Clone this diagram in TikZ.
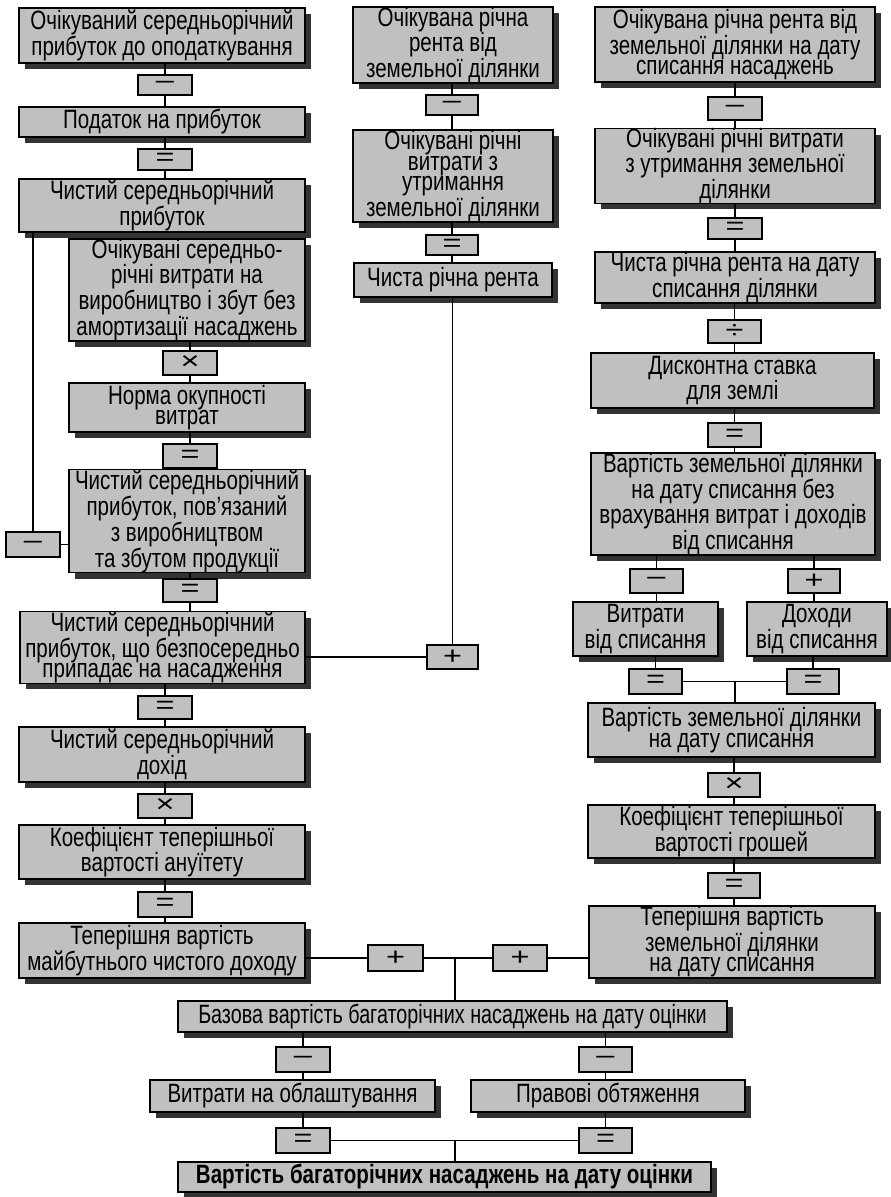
\documentclass[tikz,border=0pt]{standalone}
\usepackage{fontspec}
\setmainfont[FakeStretch=0.775]{Liberation Sans}
\newfontfamily\opfont[FakeStretch=1.3]{Liberation Sans}
\newfontfamily\narrowfont[FakeStretch=0.745]{Liberation Sans}
\usetikzlibrary{shadows}
\definecolor{boxgray}{HTML}{C0C0C0}
\definecolor{shadowgray}{HTML}{333333}
\tikzset{
 box/.style={draw=black, line width=1.3pt, fill=boxgray, align=center, inner xsep=0pt, inner ysep=0pt,
   font=\fontsize{26.5}{20.5}\selectfont,
   drop shadow={shadow xshift=6pt, shadow yshift=-6pt, fill=shadowgray, opacity=1}},
 opbox/.style={draw=black, line width=1.3pt, fill=boxgray, inner sep=0pt, font=\opfont\fontsize{25}{25}\selectfont},
 conn/.style={line width=1.3pt},
}
\newcommand\bx[6]{\pgfmathsetmacro\myW{#4-#2}\pgfmathsetmacro\myH{#5-#3}%
 \node[box, minimum width=\myW pt, minimum height=\myH pt] (#1) at ({(#2+#4)/2},{(#3+#5)/2}) {#6};}
\newcommand\opn[6]{\pgfmathsetmacro\myW{#4-#2}\pgfmathsetmacro\myH{#5-#3}%
 \node[opbox, minimum width=\myW pt, minimum height=\myH pt] (#1) at ({(#2+#4)/2},{(#3+#5)/2}) {#6};}
\newcommand\vdown[2]{\draw[conn] (#1.south -| #2.center) -- (#2.north);}
\newcommand\vto[2]{\draw[conn] (#1.south) -- (#1.south |- #2.north);}
\begin{document}
\begin{tikzpicture}[x=1pt,y=-1pt]
\fill[white] (0,0) rectangle (891,1197);
\useasboundingbox (0,0) rectangle (891,1197);
% left column
\bx{B1}{19}{8}{305}{63}{Очікуваний середньорічний\\прибуток до оподаткування}
\opn{o1}{138}{75}{192}{95}{–}
\bx{B2}{19}{107}{305}{137}{Податок на прибуток}
\opn{o2}{138}{149}{192}{170}{=}
\bx{B3}{19}{179}{305}{232}{Чистий середньорічний\\прибуток}
\bx{B4}{69}{247}{305}{333}{Очікувані середньо-\\річні витрати на\\виробництво і збут без\\амортизації насаджень}
\opn{o3}{163}{351}{217}{375}{×}
\bx{B5}{69}{383}{305}{432}{Норма окупності\\витрат}
\opn{o4}{163}{444}{217}{468}{=}
\bx{B6}{69}{475}{305}{567}{Чистий середньорічний\\прибуток, пов’язаний\\з виробництвом\\та збутом продукції}
\opn{o5}{6}{532}{60}{557}{–}
\opn{o6}{163}{579}{217}{602}{=}
\bx{B7}{20}{612}{305}{683}{Чистий середньорічний\\прибуток, що безпосередньо\\припадає на насадження}
\opn{o7}{138}{696}{192}{719}{=}
\bx{B8}{19}{727}{305}{782}{Чистий середньорічний\\дохід}
\opn{o8}{138}{794}{192}{818}{×}
\bx{B9}{19}{825}{305}{879}{Коефіцієнт теперішньої\\вартості ануїтету}
\opn{o9}{138}{892}{192}{917}{=}
\bx{B10}{19}{923}{305}{978}{Теперішня вартість\\майбутнього чистого доходу}
% middle column
\bx{M1}{353}{8}{553}{82}{Очікувана річна\\рента від\\земельної ділянки}
\opn{m1}{426}{95}{478}{115}{–}
\bx{M2}{353}{130}{553}{222}{Очікувані річні\\витрати з\\утримання\\земельної ділянки}
\opn{m2}{426}{235}{478}{255}{=}
\bx{M3}{354}{263}{552}{297}{Чиста річна рента}
\opn{m3}{427}{645}{478}{669}{+}
% right column
\bx{R1}{595}{7}{875}{82}{Очікувана річна рента від\\земельної ділянки на дату\\списання насаджень}
\opn{r1}{708}{97}{762}{120}{–}
\bx{R2}{595}{130}{875}{202}{Очікувані річні витрати\\з утримання земельної\\ділянки}
\opn{r2}{708}{218}{762}{239}{=}
\bx{R3}{595}{252}{875}{303}{Чиста річна рента на дату\\списання ділянки}
\opn{r3}{708}{320}{761}{343}{÷}
\bx{R4}{591}{353}{874}{408}{Дисконтна ставка\\для землі}
\opn{r4}{708}{423}{761}{447}{=}
\bx{R5}{591}{455}{875}{553}{Вартість земельної ділянки\\на дату списання без\\врахування витрат і доходів\\від списання}
\opn{r5}{630}{569}{683}{593}{–}
\opn{r6}{788}{569}{840}{593}{+}
\bx{R6}{573}{602}{718}{656}{Витрати\\від списання}
\bx{R7}{747}{602}{887}{656}{Доходи\\від списання}
\opn{r7}{629}{669}{682}{694}{=}
\opn{r8}{787}{669}{839}{694}{=}
\bx{R8}{588}{703}{875}{757}{Вартість земельної ділянки\\на дату списання}
\opn{r9}{708}{773}{760}{797}{×}
\bx{R9}{588}{805}{875}{858}{Коефіцієнт теперішньої\\вартості грошей}
\opn{r10}{708}{873}{760}{898}{=}
\bx{R10}{589}{906}{875}{978}{Теперішня вартість\\земельної ділянки\\на дату списання}
% bottom
\opn{p1}{368}{945}{423}{971}{+}
\opn{p2}{493}{945}{547}{971}{+}
\bx{BZ}{178}{1001}{727}{1032}{\narrowfont Базова вартість багаторічних насаджень на дату оцінки}
\opn{q1}{276}{1047}{330}{1072}{–}
\opn{q2}{579}{1047}{632}{1072}{–}
\bx{C1}{150}{1080}{435}{1112}{Витрати на облаштування}
\bx{C2}{471}{1080}{745}{1112}{Правові обтяження}
\opn{q3}{276}{1128}{330}{1153}{=}
\opn{q4}{579}{1128}{632}{1153}{=}
\bx{F}{178}{1162}{711}{1192}{\bfseries Вартість багаторічних насаджень на дату оцінки}
% connectors left
\vdown{B1}{o1} \vto{o1}{B2} \vdown{B2}{o2} \vto{o2}{B3}
\vdown{B3}{o5}
\draw[conn] (o5.east) -- (o5.east -| B6.west);
\vdown{B4}{o3} \vto{o3}{B5} \vdown{B5}{o4} \vto{o4}{B6} \vdown{B6}{o6} \vto{o6}{B7}
\vdown{B7}{o7} \vto{o7}{B8} \vdown{B8}{o8} \vto{o8}{B9} \vdown{B9}{o9} \vto{o9}{B10}
% middle
\vdown{M1}{m1} \vto{m1}{M2} \vdown{M2}{m2} \vto{m2}{M3} \vdown{M3}{m3}
\draw[conn] (m3.west) -- (m3.west -| B7.east);
% right
\vdown{R1}{r1} \vto{r1}{R2} \vdown{R2}{r2} \vto{r2}{R3} \vdown{R3}{r3} \vto{r3}{R4}
\vdown{R4}{r4} \vto{r4}{R5}
\vdown{R5}{r5} \vto{r5}{R6} \vdown{R5}{r6} \vto{r6}{R7}
\vdown{R6}{r7} \vdown{R7}{r8}
\draw[conn] (r7.east) -- (r8.west);
\coordinate (j1) at (735,0);
\draw[conn] (j1 |- r7.east) -- (j1 |- R8.north);
\vdown{R8}{r9} \vto{r9}{R9} \vdown{R9}{r10} \vto{r10}{R10}
% bottom
\draw[conn] (p1.west -| B10.east) -- (p1.west);
\draw[conn] (p1.east) -- (p2.west);
\draw[conn] (p2.east) -- (p2.east -| R10.west);
\coordinate (j2) at (455,0);
\draw[conn] (j2 |- p1.east) -- (j2 |- BZ.north);
\vdown{BZ}{q1} \vto{q1}{C1} \vdown{BZ}{q2} \vto{q2}{C2}
\vdown{C1}{q3} \vdown{C2}{q4}
\draw[conn] (q3.east) -- (q4.west);
\coordinate (j3) at (455,0);
\draw[conn] (j3 |- q3.east) -- (j3 |- F.north);
\end{tikzpicture}
\end{document}
